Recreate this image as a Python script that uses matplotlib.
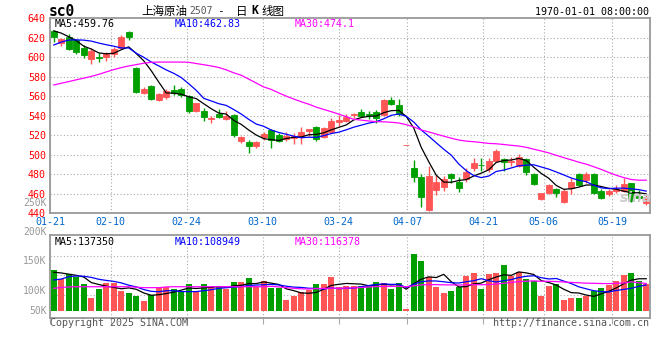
import pandas as pd
import matplotlib
matplotlib.use('Agg')
from matplotlib import pyplot as plt

# 上海原油2507 日K (2025-01-21 .. 2025-05-26), 80 个交易日
opens = [626.9, 614.9, 620.4, 617.6, 609.8, 597.8, 600.5, 599.9, 603.3, 609.8,
         626.2, 589.3, 563.6, 570.5, 556.1, 559.5, 566.4, 567.4, 560.6, 544.8,
         545.2, 536.3, 541.4, 536.6, 540.7, 514.1, 513.4, 508.9, 517.8, 525.3,
         520.2, 515.8, 517.5, 517.8, 524.7, 528.8, 518.5, 523.6, 534.0, 534.9,
         540.7, 544.1, 541.7, 543.5, 540.7, 556.1, 551.0, 510.0, 486.0, 477.5,
         443.3, 463.8, 466.5, 480.2, 472.3, 474.7, 486.7, 489.8, 485.3, 493.5,
         495.2, 492.2, 488.7, 495.2, 480.2, 454.2, 460.4, 464.5, 451.1, 465.5,
         480.2, 474.1, 479.9, 462.7, 459.4, 463.1, 463.1, 470.6, 457.6, 450.1]
highs = [628.2, 619.4, 623.5, 618.7, 612.5, 609.1, 604.3, 605.0, 610.4, 622.8,
         626.9, 590.3, 569.1, 571.5, 563.6, 567.0, 571.5, 569.1, 561.2, 553.4,
         548.2, 540.0, 546.9, 544.8, 541.4, 519.5, 515.1, 514.1, 523.6, 526.0,
         521.9, 523.6, 521.9, 528.8, 526.4, 529.8, 528.8, 538.0, 540.7, 541.4,
         542.4, 546.5, 544.8, 545.8, 556.8, 559.5, 557.1, 510.0, 494.6, 479.9,
         488.4, 479.2, 478.1, 480.9, 476.8, 486.0, 496.3, 496.3, 496.3, 505.8,
         496.9, 497.3, 500.7, 496.3, 480.9, 461.0, 469.6, 466.2, 464.5, 475.8,
         481.6, 482.6, 480.9, 464.5, 464.5, 468.9, 475.8, 471.3, 463.8, 458.7]
lows = [615.3, 611.8, 607.4, 603.0, 598.8, 592.7, 595.4, 596.4, 600.2, 609.1,
        617.6, 563.6, 561.9, 556.1, 555.1, 557.1, 561.2, 559.5, 542.4, 543.5,
        534.6, 532.9, 538.0, 535.6, 518.5, 511.7, 502.1, 506.5, 515.1, 507.2,
        513.4, 514.1, 511.0, 511.0, 519.5, 514.1, 517.5, 521.9, 529.8, 533.9,
        537.3, 539.0, 536.3, 532.9, 540.0, 551.0, 539.7, 510.0, 471.7, 446.7,
        442.3, 459.0, 462.8, 470.6, 462.1, 472.3, 483.3, 483.3, 482.6, 492.9,
        483.3, 488.7, 487.7, 479.2, 468.9, 453.5, 459.7, 457.0, 450.1, 459.7,
        467.9, 470.6, 459.3, 454.2, 458.0, 460.4, 462.1, 451.1, 454.6, 448.4]
closes = [621.1, 618.7, 608.8, 605.7, 602.3, 606.4, 598.8, 604.3, 608.4, 620.4,
          621.1, 564.7, 567.0, 557.4, 562.3, 565.3, 563.6, 561.2, 544.8, 552.7,
          539.0, 538.0, 539.0, 539.7, 520.2, 518.5, 509.1, 513.4, 521.2, 515.1,
          514.1, 519.5, 519.5, 522.9, 526.4, 515.8, 527.7, 534.6, 535.6, 539.0,
          541.4, 540.0, 540.7, 537.3, 556.1, 551.7, 541.4, 510.0, 477.5, 456.9,
          478.2, 472.3, 474.7, 476.4, 466.2, 482.6, 491.1, 489.1, 493.5, 504.1,
          492.2, 493.9, 497.3, 482.6, 469.9, 460.4, 468.9, 460.4, 463.1, 472.3,
          468.9, 479.9, 460.4, 455.3, 463.1, 464.5, 469.6, 452.5, 455.3, 457.0]
volumes = [174600, 134700, 156200, 143300, 114500, 55800, 93100, 120100, 117500, 84500,
           74600, 63100, 41600, 67400, 96100, 100400, 93100, 84500, 114500, 84500,
           114500, 103000, 103000, 93100, 123100, 123100, 140300, 103000, 128700, 96100,
           96100, 45900, 64400, 78900, 88800, 114500, 114500, 145900, 103000, 107300,
           107300, 107300, 110300, 123100, 118800, 93100, 118800, 7300, 243200, 214500,
           143300, 103000, 77200, 84500, 103000, 150200, 161700, 93100, 157400, 161700,
           196100, 150200, 167300, 136000, 128700, 64400, 107300, 114500, 45900, 55800,
           55800, 64400, 85800, 98700, 111500, 128700, 154400, 161700, 128700, 113300]

# 均线开头部分(历史数据不在图内, 直接从图上读取)
ma5_head = [627.0, 624.7, 621.0, 617.0]
ma10_head = [612.5, 615.5, 617.6, 617.8, 617.5, 616.5, 614.5, 612.8, 611.3]
ma30_head = [571.5, 573.3, 575.0, 576.8, 578.5, 580.3, 582.4, 584.9, 587.3, 589.3,
             591.0, 592.4, 593.8, 594.8, 595.0, 595.0, 595.0, 595.0, 594.8, 593.5,
             592.3, 591.0, 589.5, 587.0, 584.0, 581.5, 577.5, 573.5, 569.5]
vma5_head = [165000, 162000, 157000, 152000]
vma10_head = [132000, 136000, 146000, 149000, 148000, 143000, 135000, 130000, 126000]
vma30_head = [96000, 100000, 102000, 103000, 103000, 103000, 103000, 103000, 103000, 103000,
              103000, 101000, 99000, 99000, 99000, 102000, 103000, 103000, 103000, 103000,
              103000, 103000, 103000, 103000, 103000, 103000, 103000, 103000, 103000]

tick_idx = [0, 8, 18, 28, 38, 47, 57, 65, 74]
tick_labels = ['01-21', '02-10', '02-24', '03-10', '03-24', '04-07', '04-21', '05-06', '05-19']
price_ticks = list(range(440, 641, 20))
vol_labels = ['250K', '200K', '150K', '100K', '50K']


def moving_average(values, n, head):
    ma = pd.Series(values, dtype=float).rolling(n).mean()
    ma.iloc[:n - 1] = head
    return ma


RED, GREEN = '#ff5555', '#009f00'
GRID = '#aaaaaa'
MONO = 'DejaVu Sans Mono'
CJK = ['Noto Sans CJK SC', 'DejaVu Sans']
FS = 7.2
W, H = 660, 360

n = len(closes)
xs = list(range(n))
colors = [RED if c >= o else GREEN for o, c in zip(opens, closes)]
# 网格线位置按 n-1 个间隔计算(与原图一致)
grid_x = [i * n / (n - 1) - 0.5 for i in tick_idx]


def box(x0, y0, x1, y1):
    return [x0 / W, 1 - y1 / H, (x1 - x0) / W, (y1 - y0) / H]


fig = plt.figure(figsize=(6.6, 3.6), dpi=100)
ax = fig.add_axes(box(50, 18.2, 650, 213.2))
axv = fig.add_axes(box(50, 235, 650, 317.7))

for a in (ax, axv):
    a.set_xlim(-0.5, n - 0.5)
    for s in a.spines.values():
        s.set_color('#999999')
        s.set_linewidth(1.3)
    for gx in grid_x:
        a.axvline(gx, color=GRID, lw=0.8, ls=(0, (1, 2)), zorder=0)

# K线
bodies = [abs(c - o) for o, c in zip(opens, closes)]
bottoms = [min(o, c) for o, c in zip(opens, closes)]
ax.vlines(xs, lows, highs, colors=colors, lw=1, zorder=2)
ax.bar(xs, bodies, bottom=bottoms, width=0.78, color=colors, edgecolor=colors,
       linewidth=0.6, zorder=3)
ax.plot(xs, moving_average(closes, 5, ma5_head), color='black', lw=0.9, zorder=4)
ax.plot(xs, moving_average(closes, 10, ma10_head), color='#0000ff', lw=0.9, zorder=4)
ax.plot(xs, moving_average(closes, 30, ma30_head), color='#ff00ff', lw=0.9, zorder=4)

ax.set_ylim(440, 640)
ax.set_yticks(price_ticks)
ax.set_yticklabels([str(p) for p in price_ticks], color='red', family=MONO, fontsize=FS)
for p in price_ticks[1:-1]:
    ax.axhline(p, color=GRID, lw=0.8, ls=(0, (1, 2)), zorder=0)
ax.set_xticks(grid_x)
ax.set_xticklabels(tick_labels, color='#0066cc', family=MONO, fontsize=FS)
ax.tick_params(axis='y', length=0, pad=3)
ax.tick_params(axis='x', length=0, pad=2.5)

# 成交量
axv.bar(xs, volumes, width=0.78, color=colors, zorder=2)
axv.plot(xs, moving_average(volumes, 5, vma5_head), color='black', lw=0.9, zorder=3)
axv.plot(xs, moving_average(volumes, 10, vma10_head), color='#0000ff', lw=0.9, zorder=3)
axv.plot(xs, moving_average(volumes, 30, vma30_head), color='#ff00ff', lw=0.9, zorder=3)
axv.set_ylim(-30000, 325000)
for f in (0.27, 0.515, 0.75):
    axv.plot([0, 1], [f, f], transform=axv.transAxes, color=GRID, lw=0.8,
             ls=(0, (1, 2)), zorder=0)
axv.set_yticks([])
axv.set_xticks(grid_x)
axv.set_xticklabels([])
axv.tick_params(axis='x', length=4, color=GRID, width=0.8)

# 文字
def put(x, y, s, **kw):
    kw.setdefault('family', MONO)
    kw.setdefault('fontsize', FS)
    fig.text(x / W, 1 - y / H, s, va='center', **kw)


put(49, 11, 'sc0', fontsize=10.5, fontweight='bold')
put(141, 11, '上海原油', family=CJK, fontsize=8.3)
put(189, 11.5, '2507', color='#555555', fontsize=7)
put(217, 11, '-', fontsize=8)
put(236, 11, '日', family=CJK, fontsize=8.3)
put(251, 11, 'K', fontsize=8.3, fontweight='bold')
put(261, 11, '线图', family=CJK, fontsize=8.3)
put(649, 12, '1970-01-01 08:00:00', ha='right')

put(55, 24, 'MA5:459.76', color='black')
put(175, 24, 'MA10:462.83', color='#0000ff')
put(295, 24, 'MA30:474.1', color='#ff00ff')
put(55, 242, 'MA5:137350', color='black')
put(175, 242, 'MA10:108949', color='#0000ff')
put(295, 242, 'MA30:116378', color='#ff00ff')

for lab, y in zip(vol_labels, [202.5, 231.5, 260.5, 290.7, 311]):
    put(46.5, y, lab, color='#999999', ha='right', fontsize=7)

put(50, 323.5, 'Copyright 2025 SINA.COM', color='#555555')
put(649, 323.5, 'http://finance.sina.com.cn', color='#555555', ha='right')
put(620, 198, 'sina', family='DejaVu Sans', fontsize=10, fontstyle='italic',
    fontweight='bold', color='#cccccc')

fig.savefig('out.png', dpi=100)
